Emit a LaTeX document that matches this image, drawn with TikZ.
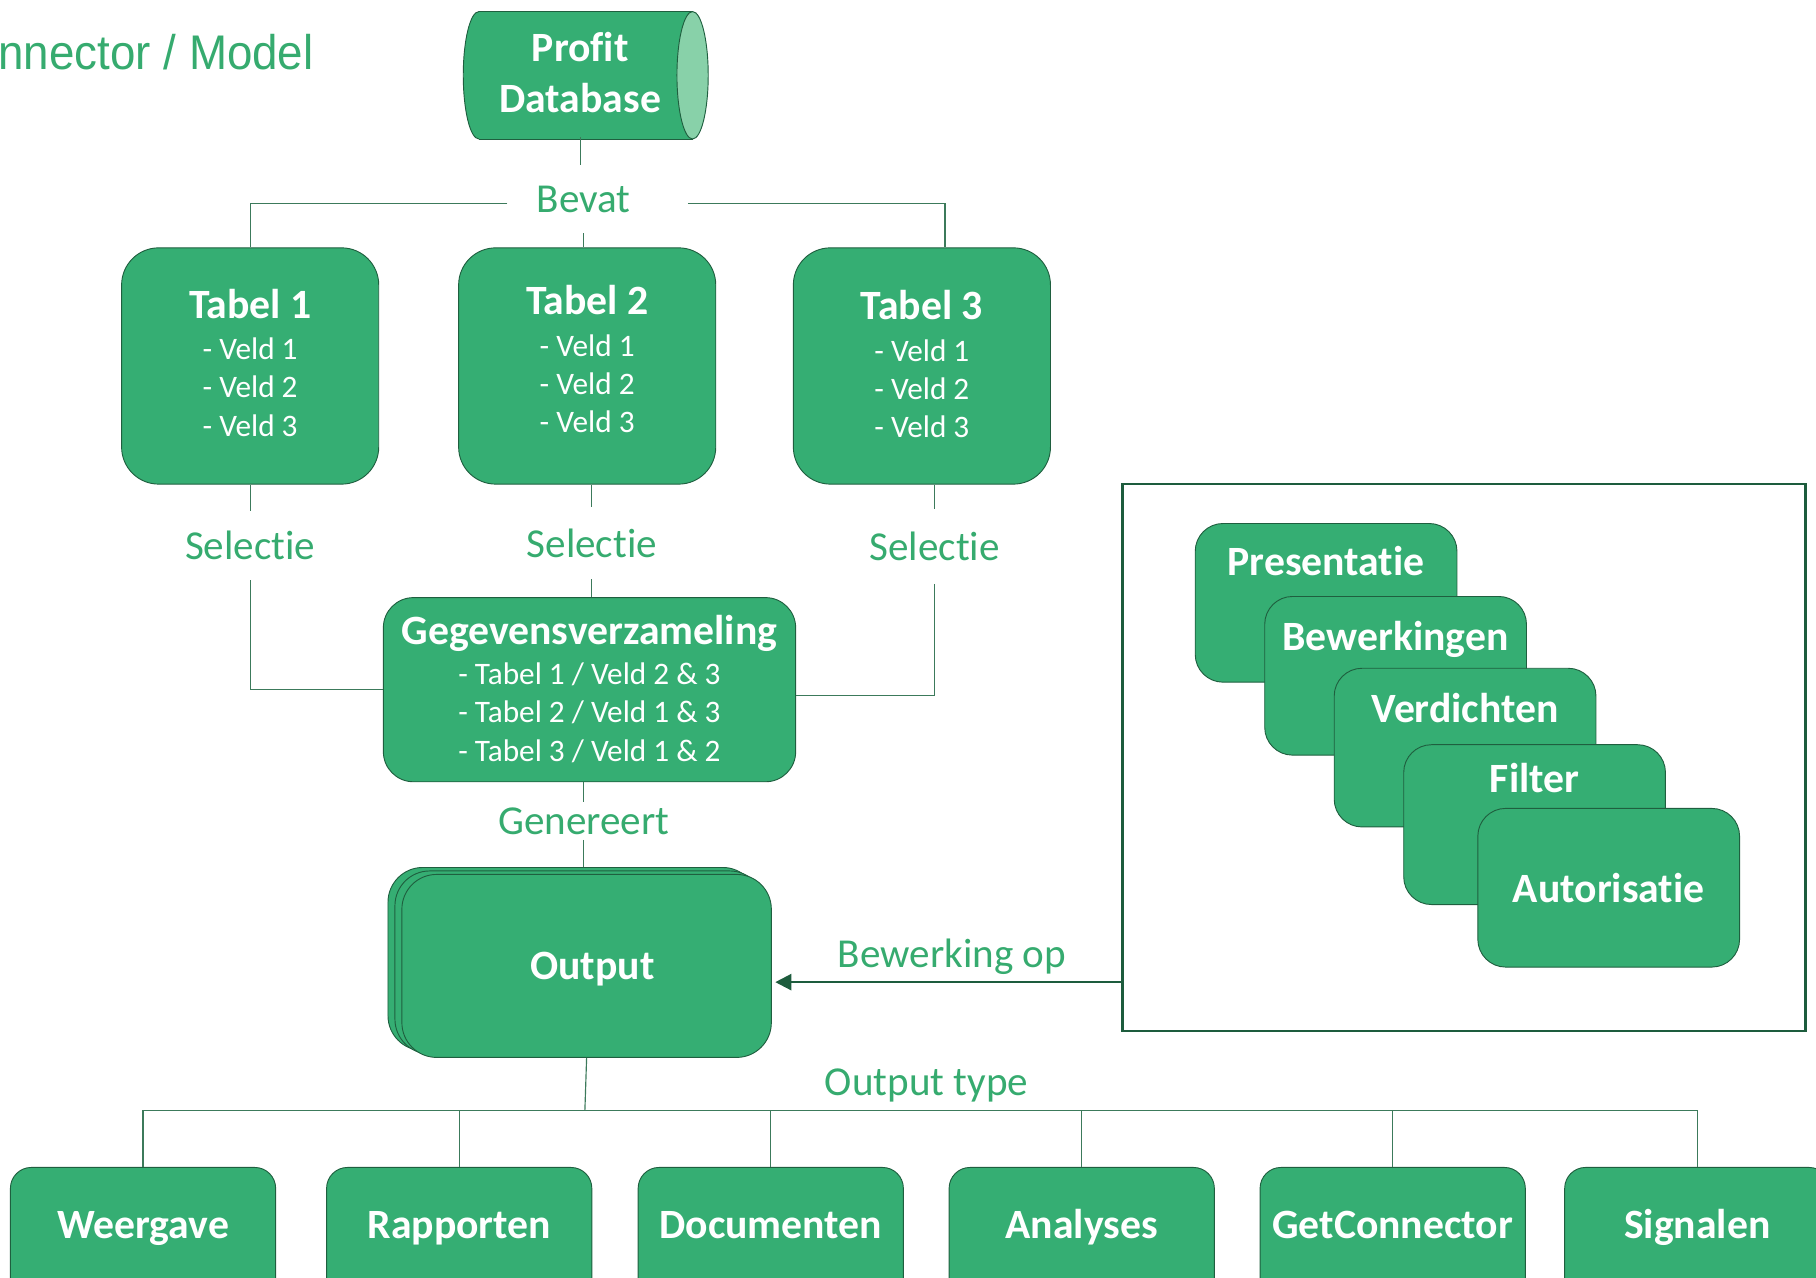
\documentclass[tikz,border=0pt]{standalone}
\usepackage{fontspec}
\setmainfont{Carlito}[Ligatures={NoCommon,NoContextual}]
\newfontfamily\dgtitlefont{Liberation Sans}
\usetikzlibrary{arrows.meta,calc}
\definecolor{boxfill}{HTML}{35AE73}
\definecolor{boxedge}{HTML}{1F5F3F}
\definecolor{endfill}{HTML}{88D1A9}
\definecolor{linecol}{HTML}{3C7A5B}
\definecolor{labcol}{HTML}{36AB6F}
\definecolor{darkg}{HTML}{1D5C3D}
\newcommand\dgbig{\fontsize{36}{44}\selectfont\bfseries}
\newcommand\dgsmall{\fontsize{27}{33}\selectfont}
\newcommand\dglab{\fontsize{35.5}{40}\selectfont}
\begin{document}
\begin{tikzpicture}[x=1pt,y=-1pt,
  gbox/.style={draw=boxedge, fill=boxfill, line width=0.8pt, text=white, inner sep=0pt, align=center},
  tabbox/.style={gbox, rounded corners=32pt, minimum width=222, minimum height=204, font=\dgsmall},
  card/.style={gbox, rounded corners=24pt, minimum width=226, minimum height=137},
  obox/.style={gbox, rounded corners=18pt, minimum width=229, minimum height=140},
  outbox/.style={gbox, rounded corners=30pt, minimum width=319, minimum height=158},
  wtext/.style={text=white, font=\dgbig, inner sep=0pt, anchor=base},
  lab/.style={text=labcol, font=\dglab, inner sep=0pt, text depth=0pt},
  conn/.style={draw=linecol, line width=1pt}
]
\useasboundingbox (0,0) rectangle (1568,1103);

% title
\node[anchor=east, text=labcol, inner sep=0pt] (ttl) at (271,45)
  {\scalebox{0.94}[1]{\dgtitlefont\fontsize{42}{48}\selectfont nnector / Model}};

% database cylinder
\filldraw[fill=boxfill, draw=boxedge, line width=0.8pt] (413.5,65) ellipse [x radius=13.5, y radius=55];
\fill[boxfill] (413.5,10) rectangle (598,120);
\draw[boxedge, line width=0.8pt] (413.5,10) -- (598,10) (413.5,120) -- (598,120);
\filldraw[fill=endfill, draw=boxedge, line width=0.8pt] (598,65) ellipse [x radius=13.5, y radius=55];
\node[text=white, align=center, font=\dgbig, inner sep=0pt, minimum width=198, minimum height=110] (db) at (501,63) {Profit\\Database};

% tables
\node[tabbox, text depth=6pt] (t1) at (216,316) {{\dgbig Tabel 1}\\[3pt]- Veld 1\\- Veld 2\\- Veld 3};
\node[tabbox, text depth=12pt] (t2) at (507,316) {{\dgbig Tabel 2}\\[3pt]- Veld 1\\- Veld 2\\- Veld 3};
\node[tabbox, text depth=3pt] (t3) at (796,316) {{\dgbig Tabel 3}\\[3pt]- Veld 1\\- Veld 2\\- Veld 3};

% Bevat
\node[lab, minimum height=58] (bevat) at (504,172) {Bevat};
\coordinate (bl) at (438,176);
\coordinate (br) at (594,176);
\draw[conn] (db.south) -- (db.south |- bevat.north);
\draw[conn] (bevat.south) -- (bevat.south |- t2.north);
\draw[conn] (bl) -| (t1.north);
\draw[conn] (br) -| ([xshift=20pt]t3.north);

% Gegevensverzameling
\node[gbox, rounded corners=26pt, minimum width=356, minimum height=159, font=\dgsmall, text depth=3pt] (gv) at (509,595.5)
  {{\dgbig Gegevensverzameling}\\[2pt]- Tabel 1 / Veld 2 \& 3\\- Tabel 2 / Veld 1 \& 3\\- Tabel 3 / Veld 1 \& 2};

% Selectie
\node[lab, minimum height=60] (s1) at (216,471) {Selectie};
\node[lab, minimum height=62] (s2) at (511,469) {Selectie};
\node[lab, minimum height=64] (s3) at (807,472) {Selectie};
\draw[conn] (s1.north |- t1.south) -- (s1.north);
\draw[conn] (s1.south) |- (gv.west);
\draw[conn] (s2.north |- t2.south) -- (s2.north);
\draw[conn] (s2.south) -- (s2.south |- gv.north);
\draw[conn] (s3.north |- t3.south) -- (s3.north);
\draw[conn] (s3.south) |- ([yshift=-5pt]gv.east);

% Output stack
\node[outbox] (outb2) at (494.5,828) {};
\node[outbox] (outb1) at (500.5,831) {};
\node[outbox, font=\dgbig, text depth=0pt] (out) at (506.5,834) {\hspace*{10pt}Output};

% Genereert
\node[lab, minimum height=32] (gen) at (504,709) {Genereert};
\draw[conn] (gen.north |- gv.south) -- (gen.north);
\draw[conn] (gen.south) -- (gen.south |- outb2.north);

% right box
\node[draw=darkg, line width=2.2pt, minimum width=590, minimum height=472, inner sep=0pt] (rbox) at (1264,654) {};
\node[card] (pres) at (1145,520.5) {};
\node[wtext] at ([yshift=-45pt]pres.north) {Presentatie};
\node[card] (bew) at (1205,583.5) {};
\node[wtext] at ([yshift=-47pt]bew.north) {Bewerkingen};
\node[card] (verd) at (1265,645.5) {};
\node[wtext] at ([yshift=-47pt]verd.north) {Verdichten};
\node[card, minimum height=138] (filt) at (1325,712) {};
\node[wtext] at ([yshift=-42pt]filt.north) {Filter};
\node[card] (aut) at (1389,766.5) {};
\node[wtext] at ([yshift=-12.5pt]aut.center) {Autorisatie};

% arrow
\coordinate (arrs) at (969,848);
\draw[darkg, line width=2pt, -{Triangle[length=14pt,width=14pt]}, shorten >=3pt] (arrs) -- (arrs -| out.east);
\node[lab] (bewop) at (822,823) {Bewerking op};

% output types
\node[lab] (otype) at (800,934) {Output type};
\coordinate (hub) at (505,959);
\node[obox] (o1) at (123.5,1078) {};
\node[obox] (o2) at (396.5,1078) {};
\node[obox] (o3) at (665.5,1078) {};
\node[obox] (o4) at (934,1078) {};
\node[obox] (o5) at (1202.5,1078) {};
\node[obox] (o6) at (1465.5,1078) {};
\node[wtext] at ([yshift=-62pt]o1.north) {Weergave};
\node[wtext] at ([yshift=-62pt]o2.north) {Rapporten};
\node[wtext] at ([yshift=-62pt]o3.north) {Documenten};
\node[wtext] at ([yshift=-62pt]o4.north) {Analyses};
\node[wtext] at ([yshift=-62pt]o5.north) {GetConnector};
\node[wtext] at ([yshift=-62pt]o6.north) {Signalen};
\draw[conn] (out.south) -- (hub);
\draw[conn] (o1.north) -- (o1.north |- hub) -- (o6.north |- hub) -- (o6.north);
\foreach \o in {o2,o3,o4,o5} \draw[conn] (\o.north) -- (\o.north |- hub);
\end{tikzpicture}
\end{document}
